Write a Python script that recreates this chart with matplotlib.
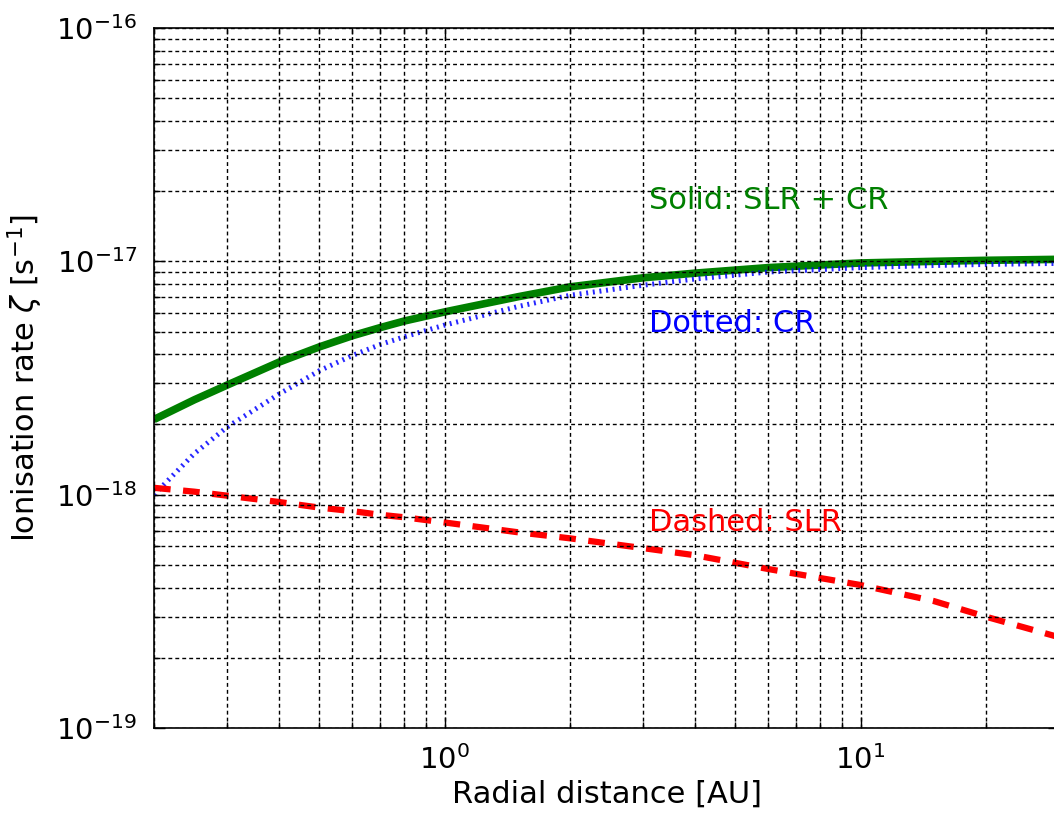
import matplotlib
matplotlib.use("Agg")
import matplotlib.pyplot as plt
import numpy as np

# radial distance [AU] and ionisation rates [s^-1]
r_au = [0.2, 0.25, 0.3, 0.4, 0.5, 0.6, 0.7, 0.8, 1.0, 1.5, 2.0, 3.0, 4.0, 6.0, 10.0, 15.0, 20.0, 30.0]
zeta_total = [2.1e-18, 2.55e-18, 2.95e-18, 3.7e-18, 4.3e-18, 4.8e-18, 5.2e-18, 5.55e-18,
              6.07e-18, 7.05e-18, 7.77e-18, 8.5e-18, 8.9e-18, 9.4e-18, 9.84e-18, 1.0e-17,
              1.01e-17, 1.02e-17]
zeta_cr = [1.0e-18, 1.5e-18, 1.95e-18, 2.7e-18, 3.4e-18, 3.95e-18, 4.4e-18, 4.75e-18,
           5.33e-18, 6.4e-18, 7.15e-18, 7.9e-18, 8.4e-18, 9.0e-18, 9.4e-18, 9.6e-18,
           9.7e-18, 9.8e-18]
zeta_slr = [1.07e-18, 1.03e-18, 0.99e-18, 0.93e-18, 0.88e-18, 0.85e-18, 0.82e-18, 0.8e-18,
            0.76e-18, 0.69e-18, 0.65e-18, 0.59e-18, 0.55e-18, 0.48e-18, 0.41e-18, 0.35e-18,
            0.30e-18, 0.245e-18]

GREEN = (0, 0.5, 0)
BLUE = (0, 0, 1)
RED = (1, 0, 0)
FS = 22

plt.rcParams["lines.scale_dashes"] = False
plt.rcParams["font.family"] = "DejaVu Sans"
plt.rcParams["mathtext.fontset"] = "dejavusans"

fig = plt.figure(figsize=(10.54, 8.16), dpi=100)
ax = fig.add_axes([154 / 1054, 1 - 728 / 816, (1059 - 154) / 1054, 700 / 816])

ax.plot(r_au, zeta_total, color=GREEN, lw=5.5, solid_capstyle="butt")
ax.plot(r_au, zeta_cr, color=BLUE, lw=3.6, dashes=(1.4, 3.4), alpha=0.85)
ax.plot(r_au, zeta_slr, color=RED, lw=4.5, dashes=(12, 9))

ax.set_xscale("log")
ax.set_yscale("log")
ax.set_xlim(0.2, 30)
ax.set_ylim(1e-19, 1e-16)

ax.set_axisbelow(False)
ax.grid(True, which="both", color="black", lw=1.0, dashes=(2.8, 2.2))

ax.tick_params(which="both", direction="in", top=True, right=True, labelsize=FS - 1)
ax.tick_params(which="major", length=8, width=1, pad=12)
ax.tick_params(which="minor", length=4, width=1)
for s in ax.spines.values():
    s.set_linewidth(1.2)

ax.set_xlabel("Radial distance [AU]", fontsize=FS, labelpad=4)
ax.set_ylabel(r"Ionisation rate $\zeta$ [s$^{-1}$]", fontsize=FS, labelpad=8)

ax.text(3.1, 1.83e-17, "Solid: SLR + CR", color=GREEN, fontsize=FS, va="center")
ax.text(3.1, 5.44e-18, "Dotted: CR", color=BLUE, fontsize=FS, va="center")
ax.text(3.1, 7.6e-19, "Dashed: SLR", color=RED, fontsize=FS, va="center")

fig.savefig("out.png", dpi=100)
